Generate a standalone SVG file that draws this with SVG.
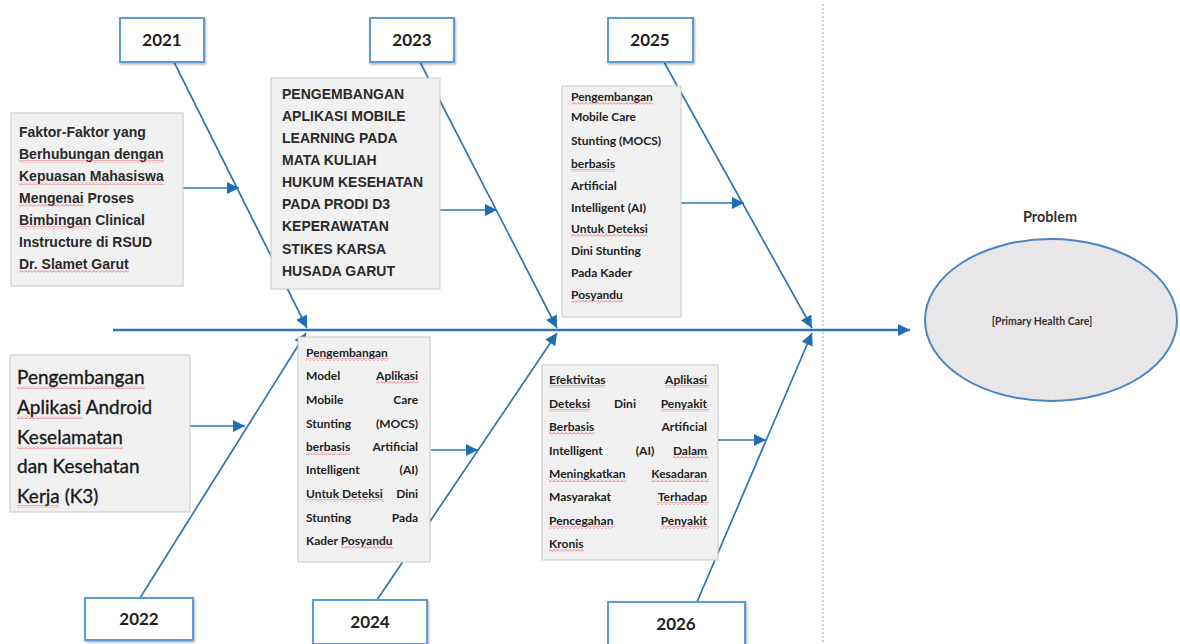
<svg xmlns="http://www.w3.org/2000/svg" width="1180" height="644" viewBox="0 0 1180 644">
<style>
.bone{stroke:#2e75b6;stroke-width:1.7;fill:none}
.spine{stroke:#2e75b6;stroke-width:2.6;fill:none}
.yr rect{fill:#fff;stroke:#5b9bd5;stroke-width:2}
.yr text{font-family:Lato,"Liberation Sans",sans-serif;font-weight:bold;font-size:17px;fill:#222;text-anchor:middle}
.tb rect{fill:#f1f1f1;stroke:#c9c9c9;stroke-width:1}
.arial{font-family:"Liberation Sans",Arial,sans-serif;font-weight:bold;font-size:14px;fill:#2a2a2a}
.cal{font-family:Lato,"Liberation Sans",sans-serif;font-weight:bold;font-size:12px;fill:#222}
.r{text-anchor:end}
.m{text-anchor:middle}
#spell rect{fill:url(#wave);height:3px}
</style>
<defs>
<marker id="ah" viewBox="0 0 10 10" refX="10" refY="5" markerWidth="15" markerHeight="12" markerUnits="userSpaceOnUse" orient="auto">
<path d="M0,0 L10,5 L0,10 z" fill="#1f6db3"/>
</marker>
<filter id="sh" x="-10%" y="-10%" width="125%" height="130%"><feDropShadow dx="1" dy="1.5" stdDeviation="0.8" flood-color="#555" flood-opacity="0.45"/></filter>
<pattern id="wave" width="4" height="3" patternUnits="userSpaceOnUse">
<path d="M0,2.5 L2,0.5 L4,2.5" fill="none" stroke="#e25866" stroke-width="0.8"/>
</pattern>
</defs>
<rect width="1180" height="644" fill="#fff"/>
<line x1="823" y1="4" x2="823" y2="642" stroke="#9aa5bd" stroke-width="1" stroke-dasharray="2,2"/>

<g id="connectors">
<line class="spine" x1="113" y1="330" x2="910" y2="330" marker-end="url(#ah)"/>
<line class="bone" x1="174" y1="62" x2="307" y2="328" marker-end="url(#ah)"/>
<line class="bone" x1="420" y1="62" x2="557" y2="328" marker-end="url(#ah)"/>
<line class="bone" x1="664" y1="62" x2="812" y2="328" marker-end="url(#ah)"/>
<line class="bone" x1="140" y1="598" x2="306" y2="333" marker-end="url(#ah)"/>
<line class="bone" x1="377" y1="600" x2="557" y2="333" marker-end="url(#ah)"/>
<line class="bone" x1="697" y1="602" x2="812" y2="333" marker-end="url(#ah)"/>
<line class="bone" x1="183" y1="188" x2="239" y2="188" marker-end="url(#ah)"/>
<line class="bone" x1="440" y1="210" x2="497" y2="210" marker-end="url(#ah)"/>
<line class="bone" x1="681" y1="203" x2="744" y2="203" marker-end="url(#ah)"/>
<line class="bone" x1="190" y1="426" x2="245" y2="426" marker-end="url(#ah)"/>
<line class="bone" x1="431" y1="450" x2="478" y2="450" marker-end="url(#ah)"/>
<line class="bone" x1="718" y1="440" x2="766" y2="440" marker-end="url(#ah)"/>
</g>

<g id="y2021" class="yr"><rect x="120" y="18" width="84" height="44" filter="url(#sh)"/><text x="162" y="46">2021</text></g>
<g id="y2023" class="yr"><rect x="370" y="18" width="84" height="44" filter="url(#sh)"/><text x="412" y="46">2023</text></g>
<g id="y2025" class="yr"><rect x="608" y="18" width="85" height="44" filter="url(#sh)"/><text x="650" y="46">2025</text></g>
<g id="y2022" class="yr"><rect x="85" y="598" width="108" height="42" filter="url(#sh)"/><text x="139" y="625">2022</text></g>
<g id="y2024" class="yr"><rect x="313" y="600" width="114" height="44" filter="url(#sh)"/><text x="370" y="628">2024</text></g>
<g id="y2026" class="yr"><rect x="608" y="602" width="137" height="44" filter="url(#sh)"/><text x="676" y="630">2026</text></g>

<g id="t2021" class="tb"><rect x="11" y="113" width="172" height="173"/>
<text class="arial"><tspan x="19" y="137">Faktor-Faktor yang</tspan><tspan x="19" y="159">Berhubungan dengan</tspan><tspan x="19" y="181">Kepuasan Mahasiswa</tspan><tspan x="19" y="203">Mengenai Proses</tspan><tspan x="19" y="225">Bimbingan Clinical</tspan><tspan x="19" y="247">Instructure di RSUD</tspan><tspan x="19" y="269">Dr. Slamet Garut</tspan></text></g>

<g id="t2023" class="tb"><rect x="271" y="78" width="169" height="211"/>
<text class="arial"><tspan x="282" y="99">PENGEMBANGAN</tspan><tspan x="282" y="121">APLIKASI MOBILE</tspan><tspan x="282" y="143">LEARNING PADA</tspan><tspan x="282" y="165">MATA KULIAH</tspan><tspan x="282" y="187">HUKUM KESEHATAN</tspan><tspan x="282" y="209">PADA PRODI D3</tspan><tspan x="282" y="231">KEPERAWATAN</tspan><tspan x="282" y="254">STIKES KARSA</tspan><tspan x="282" y="276">HUSADA GARUT</tspan></text></g>

<g id="t2025" class="tb"><rect x="562" y="86" width="119" height="231"/>
<text class="cal" font-size="11.5"><tspan x="571" y="101">Pengembangan</tspan><tspan x="571" y="121">Mobile Care</tspan><tspan x="571" y="145">Stunting (MOCS)</tspan></text>
<text class="cal" font-size="13"><tspan x="571" y="168">berbasis</tspan><tspan x="571" y="190">Artificial</tspan><tspan x="571" y="212">Intelligent (AI)</tspan><tspan x="571" y="233">Untuk Deteksi</tspan><tspan x="571" y="255">Dini Stunting</tspan><tspan x="571" y="277">Pada Kader</tspan><tspan x="571" y="299">Posyandu</tspan></text></g>

<g id="t2022" class="tb"><rect x="10" y="355" width="180" height="157"/>
<text font-family="Lato,'Liberation Sans',sans-serif" font-size="19" fill="#1a1a1a" stroke="#1a1a1a" stroke-width="0.35"><tspan x="17" y="384">Pengembangan</tspan><tspan x="17" y="414">Aplikasi Android</tspan><tspan x="17" y="444">Keselamatan</tspan><tspan x="17" y="473">dan Kesehatan</tspan><tspan x="17" y="503">Kerja (K3)</tspan></text></g>

<g id="t2024" class="tb"><rect x="298" y="337" width="132" height="225"/>
<text class="cal"><tspan x="306" y="357">Pengembangan</tspan>
<tspan x="306" y="380">Model</tspan><tspan class="r" x="421" y="380">Aplikasi</tspan>
<tspan x="306" y="404">Mobile</tspan><tspan class="r" x="421" y="404">Care</tspan>
<tspan x="306" y="428">Stunting</tspan><tspan class="r" x="421" y="428">(MOCS)</tspan>
<tspan x="306" y="451">berbasis</tspan><tspan class="r" x="421" y="451">Artificial</tspan>
<tspan x="306" y="474">Intelligent</tspan><tspan class="r" x="421" y="474">(AI)</tspan>
<tspan x="306" y="498">Untuk Deteksi</tspan><tspan class="r" x="421" y="498">Dini</tspan>
<tspan x="306" y="522">Stunting</tspan><tspan class="r" x="421" y="522">Pada</tspan>
<tspan x="306" y="545">Kader Posyandu</tspan></text></g>

<g id="t2026" class="tb"><rect x="542" y="365" width="176" height="195"/>
<text class="cal" font-size="13.5"><tspan x="549" y="384">Efektivitas</tspan><tspan class="r" x="710" y="384">Aplikasi</tspan>
<tspan x="549" y="408">Deteksi</tspan><tspan class="m" x="625" y="408">Dini</tspan><tspan class="r" x="710" y="408">Penyakit</tspan>
<tspan x="549" y="431">Berbasis</tspan><tspan class="r" x="710" y="431">Artificial</tspan>
<tspan x="549" y="455">Intelligent</tspan><tspan class="m" x="645" y="455">(AI)</tspan><tspan class="r" x="710" y="455">Dalam</tspan>
<tspan x="549" y="478">Meningkatkan</tspan><tspan class="r" x="710" y="478">Kesadaran</tspan>
<tspan x="549" y="501">Masyarakat</tspan><tspan class="r" x="710" y="501">Terhadap</tspan>
<tspan x="549" y="525">Pencegahan</tspan><tspan class="r" x="710" y="525">Penyakit</tspan>
<tspan x="549" y="548">Kronis</tspan></text></g>

<g id="spell">
<rect x="19" y="160" width="145"/><rect x="19" y="182" width="145"/><rect x="19" y="204" width="65"/><rect x="19" y="226" width="70"/><rect x="19" y="270" width="110"/>
<rect x="571" y="102" width="82"/><rect x="571" y="169" width="44"/><rect x="571" y="234" width="77"/><rect x="571" y="300" width="52"/>
<rect x="17" y="386" width="128"/><rect x="17" y="416" width="65"/><rect x="17" y="446" width="106"/><rect x="17" y="505" width="42"/>
<rect x="306" y="358" width="82"/><rect x="376" y="381" width="43"/><rect x="306" y="452" width="44"/><rect x="306" y="499" width="77"/><rect x="341" y="546" width="52"/>
<rect x="549" y="385" width="56"/><rect x="665" y="385" width="44"/><rect x="549" y="409" width="41"/><rect x="661" y="409" width="48"/><rect x="549" y="432" width="45"/><rect x="673" y="456" width="36"/><rect x="549" y="479" width="77"/><rect x="651" y="479" width="58"/><rect x="657" y="502" width="52"/><rect x="549" y="526" width="64"/><rect x="661" y="526" width="48"/><rect x="549" y="549" width="35"/>
</g>

<g id="problem">
<text x="1050" y="222" font-family="Lato,'Liberation Sans',sans-serif" font-size="14.5" font-weight="bold" fill="#333" text-anchor="middle">Problem</text>
<ellipse cx="1051" cy="320" rx="126" ry="81" fill="#e8e6e9" stroke="#4a86c5" stroke-width="2"/>
<text x="1042" y="325" font-family="Lato,'Liberation Sans',sans-serif" font-size="10.5" font-weight="bold" fill="#333" text-anchor="middle">[Primary Health Care]</text>
</g>
</svg>
